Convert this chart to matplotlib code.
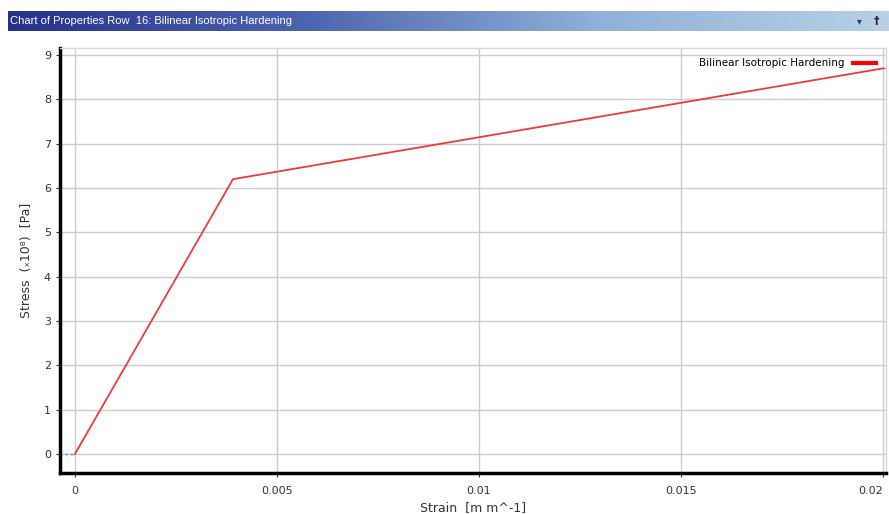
import numpy as np
import matplotlib.pyplot as plt
from matplotlib.colors import LinearSegmentedColormap

title = "Chart of Properties Row  16: Bilinear Isotropic Hardening"
series_name = "Bilinear Isotropic Hardening"

strain = [0.0, 0.00391, 0.02]
stress = [0.0, 6.2, 8.7]          # x 10^8 Pa
ext_left_x = [-0.0004, 0.0]
ext_left_y = [0.0, 0.0]
ext_right_x = [0.02, 0.0205]
ext_right_y = [8.7, 8.7]

x_ticks = [0, 0.005, 0.01, 0.015, 0.02]
x_tick_labels = ["0", "0.005", "0.01", "0.015", "0.02"]
y_ticks = list(range(0, 10))

fig = plt.figure(figsize=(8.89, 5.14), dpi=100)
fig.patch.set_facecolor("white")

# title bar with gradient
bar = fig.add_axes([8 / 889, 1 - 31 / 514, 881 / 889, 20 / 514])
grad = np.linspace(0, 1, 256).reshape(1, -1)
cmap = LinearSegmentedColormap.from_list("bar", ["#26318c", "#4a64ae", "#8fb0d8", "#b8d0e8"])
bar.imshow(grad, aspect="auto", cmap=cmap, extent=[0, 1, 0, 1])
bar.set_axis_off()
bar.text(0.002, 0.5, title, color="white", fontsize=8, va="center", ha="left",
         family="Liberation Sans")
bar.text(0.966, 0.5, "\u25be", color="#3a3a6a", fontsize=7, va="center", ha="center")
bar.text(0.986, 0.5, "\u2020", color="#202040", fontsize=8, va="center", ha="center",
         fontweight="bold")

ax = fig.add_axes([60 / 889, 41 / 514, 826 / 889, 425 / 514])
ax.plot(ext_left_x, ext_left_y, color="#8080d0", lw=1, ls=(0, (2, 2)))
ax.plot(ext_right_x, ext_right_y, color="#8080d0", lw=1, ls=(0, (2, 2)))
ax.plot(strain, stress, color="#f03a3a", lw=1.3, label=series_name)

ax.set_xlim(-0.000371, 0.020074)
ax.set_ylim(-0.43, 9.16)
ax.set_xticks(x_ticks)
ax.set_xticklabels(x_tick_labels)
ax.get_xticklabels()[-1].set_ha("right")
ax.set_yticks(y_ticks)
ax.grid(True, color="#cccccc", lw=1)
ax.set_axisbelow(True)

for s in ["left", "bottom"]:
    ax.spines[s].set_linewidth(2.5)
    ax.spines[s].set_color("black")
for s in ["top", "right"]:
    ax.spines[s].set_color("#d8d8d8")
    ax.spines[s].set_linewidth(1)

ax.tick_params(axis="both", labelsize=8, colors="#333333", length=3, width=0.8)
ax.tick_params(axis="x", pad=6)

ax.set_xlabel("Strain  [m m^-1]", fontsize=9, color="#333333", labelpad=4)
ax.set_ylabel("Stress  (\u209310\u2078)  [Pa]", fontsize=9, color="#333333", labelpad=8)

leg = ax.legend(loc="upper right", frameon=False, fontsize=7.5, markerfirst=False,
                handlelength=2.2, borderaxespad=0.6)
for line in leg.get_lines():
    line.set_linewidth(3)
    line.set_color("#ff0000")

fig.savefig("out.png", dpi=100)
